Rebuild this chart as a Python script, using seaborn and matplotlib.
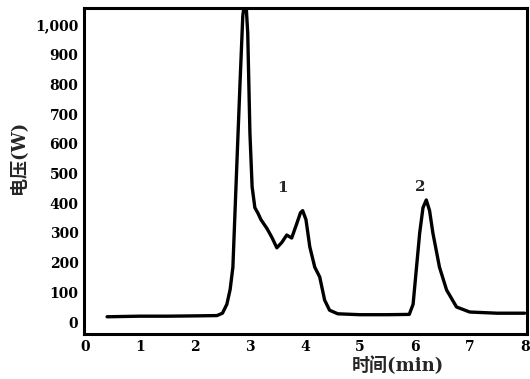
import numpy as np
import pandas as pd
import matplotlib
matplotlib.use("Agg")
import matplotlib.pyplot as plt
import seaborn as sns

# chromatogram trace (time in min, signal)
time_min = [0.4, 1.0, 1.5, 2.0, 2.4, 2.5, 2.58, 2.64, 2.69, 2.76, 2.82, 2.87, 2.92,
            2.96, 3.0, 3.04, 3.09, 3.15, 3.2, 3.31, 3.4, 3.49, 3.58, 3.67, 3.76, 3.85,
            3.92, 3.96, 4.02, 4.09, 4.18, 4.27, 4.36, 4.45, 4.6, 5.0, 5.5, 5.9, 5.97,
            6.03, 6.09, 6.15, 6.21, 6.27, 6.33, 6.45, 6.58, 6.76, 7.0, 7.5, 8.0]
voltage = [18, 20, 20, 21, 22, 30, 60, 110, 185, 522, 805, 1030, 1100,
           973, 636, 455, 385, 365, 345, 315, 285, 250, 268, 293, 283, 330,
           368, 375, 345, 253, 185, 152, 74, 40, 28, 25, 25, 26, 60,
           180, 300, 385, 411, 375, 300, 185, 108, 51, 34, 30, 30]

peak_labels = ["1", "2"]
peak_pos = [(3.6, 452), (6.1, 455)]

x_ticks = [0, 1, 2, 3, 4, 5, 6, 7, 8]
y_ticks = [0, 100, 200, 300, 400, 500, 600, 700, 800, 900, 1000]
y_ticklabels = ["0", "100", "200", "300", "400", "500", "600", "700", "800", "900", "1,000"]

df = pd.DataFrame({"t": time_min, "v": voltage})

sns.set_style("white")
plt.rcParams["font.family"] = ["DejaVu Serif", "Noto Sans CJK SC"]
plt.rcParams["font.weight"] = "bold"

fig = plt.figure(figsize=(5.3, 3.79), dpi=100)
ax = fig.add_axes([0.1585, 0.1187, 0.8355, 0.8603])

sns.lineplot(data=df, x="t", y="v", ax=ax, color="black", linewidth=2.4)

ax.set_xlim(-0.02, 8.04)
ax.set_ylim(-40, 1057)
ax.set_xticks(x_ticks)
ax.set_xticklabels([str(t) for t in x_ticks], fontsize=10, fontweight="bold")
ax.set_yticks(y_ticks)
ax.set_yticklabels(y_ticklabels, fontsize=10, fontweight="bold")
ax.tick_params(direction="in", length=3, width=1.5, pad=4, colors="black")
ax.set_xlabel("")
ax.set_ylabel("")

for s in ax.spines.values():
    s.set_visible(True)
    s.set_color("black")
    s.set_linewidth(2.2)

for lab, (x, y) in zip(peak_labels, peak_pos):
    ax.text(x, y, lab, fontsize=11, fontweight="bold", ha="center", va="center")

fig.text(0.034, 0.585, "电压(W)", rotation=90, ha="center", va="center",
         fontsize=13, fontweight="bold")
fig.text(0.751, 0.036, "时间(min)", ha="center", va="center",
         fontsize=13, fontweight="bold")

fig.savefig("out.png", dpi=100)
